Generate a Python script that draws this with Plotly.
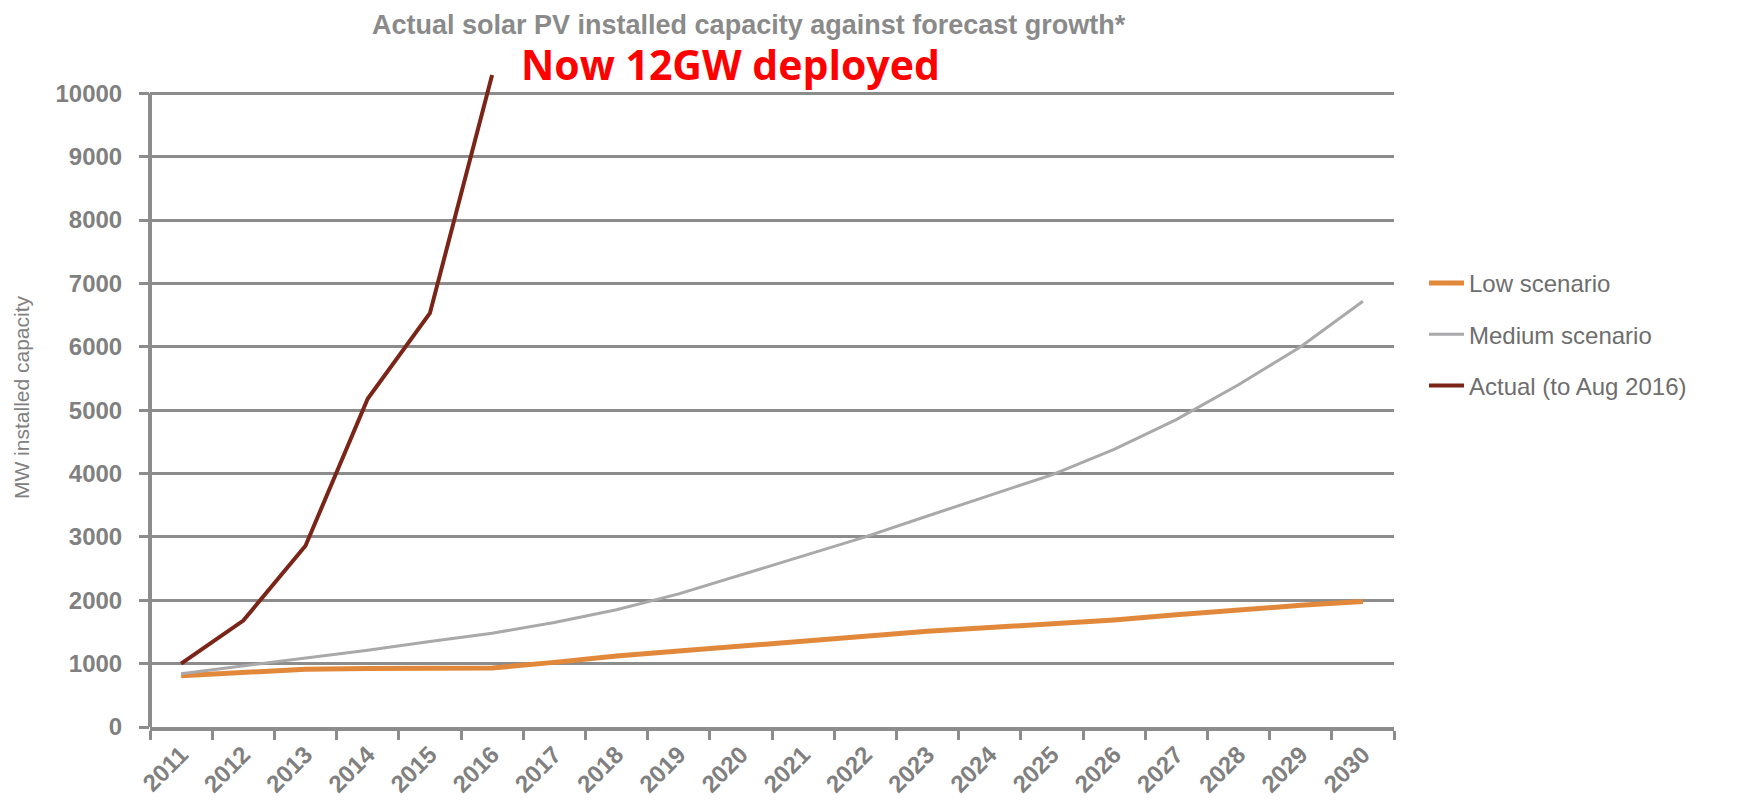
import plotly.graph_objects as go

years = [str(y) for y in range(2011, 2031)]
low = [810, 860, 910, 925, 930, 930, 1020, 1120, 1200, 1280, 1360, 1440, 1510, 1570, 1630, 1690, 1770, 1850, 1920, 1980]
medium = [840, 960, 1080, 1210, 1350, 1480, 1650, 1850, 2100, 2400, 2700, 3000, 3330, 3650, 3980, 4380, 4850, 5400, 6000, 6720]
actual_years = ["2011", "2012", "2013", "2014", "2015", "2016"]
actual = [1000, 1680, 2860, 5180, 6530, 10290]
y_ticks = list(range(0, 10001, 1000))
y_tick_text = [str(v) for v in y_ticks]

title_text = "Actual solar PV installed capacity against forecast growth*"
note_text = "Now 12GW deployed"

GRAY = "#8c8c8c"
TXT = "#808080"
FONT = "Liberation Sans"

fig = go.Figure()
fig.add_trace(go.Scatter(x=years, y=low, mode="lines", name="Low scenario",
                         legendgroup="a", line=dict(color="#e2883a", width=5)))
fig.add_trace(go.Scatter(x=years, y=medium, mode="lines", name="Medium scenario",
                         legendgroup="b", line=dict(color="#a9a9ab", width=3)))
fig.add_trace(go.Scatter(x=actual_years, y=actual, mode="lines", name="Actual (to Aug 2016)",
                         legendgroup="c", line=dict(color="#7b2418", width=4)))

W, H = 1747, 802
L, R, T, B = 142, 361, 60, 76
PW, PH = W - L - R, H - T - B

def px_x(x):
    return (x - L) / PW

def px_y(y):
    return (H - B - y) / PH

fig.update_layout(
    width=W, height=H,
    margin=dict(l=L, r=R, t=T, b=B),
    paper_bgcolor="white", plot_bgcolor="white",
    font=dict(family=FONT, color=TXT),
    showlegend=True,
    legend=dict(x=px_x(1416), y=px_y(255), xanchor="left", yanchor="top",
                font=dict(size=24, color="#6e6e6e", family=FONT),
                tracegroupgap=17, itemwidth=35, bgcolor="rgba(0,0,0,0)"),
    xaxis=dict(type="category", categoryorder="array", categoryarray=years,
               range=[-0.5, 19.5], tickson="boundaries", ticks="outside",
               ticklen=9, tickwidth=3, tickcolor=GRAY,
               showline=True, linecolor=GRAY, linewidth=4, showgrid=False,
               tickangle=-45, tickfont=dict(size=24, color=TXT, family=FONT, weight="bold")),
    yaxis=dict(range=[0, 10400], tickvals=y_ticks, ticktext=y_tick_text, ticks="outside", ticklen=10,
               tickwidth=3, tickcolor=GRAY, showline=False, showgrid=True,
               gridcolor=GRAY, gridwidth=3, zeroline=False, ticklabelstandoff=12,
               tickfont=dict(size=24, color=TXT, family=FONT, weight="bold"),
               title=dict(text="MW installed capacity", font=dict(size=21, color=TXT), standoff=20)),
    shapes=[dict(type="line", xref="paper", yref="y", x0=0, x1=0, y0=0, y1=10000,
                 line=dict(color=GRAY, width=4))],
    annotations=[
        dict(text="<b>" + title_text + "</b>", xref="paper", yref="paper",
             x=px_x(741), y=px_y(17), xanchor="center", yanchor="middle",
             showarrow=False, font=dict(size=27, color="#8a8a8a", family=FONT)),
        dict(text="<b>" + note_text + "</b>", xref="paper", yref="paper",
             x=px_x(722), y=px_y(56), xanchor="center", yanchor="middle",
             showarrow=False, font=dict(size=41, color="#ff0000", family="Open Sans")),
    ],
)

fig.write_html("out.html")
